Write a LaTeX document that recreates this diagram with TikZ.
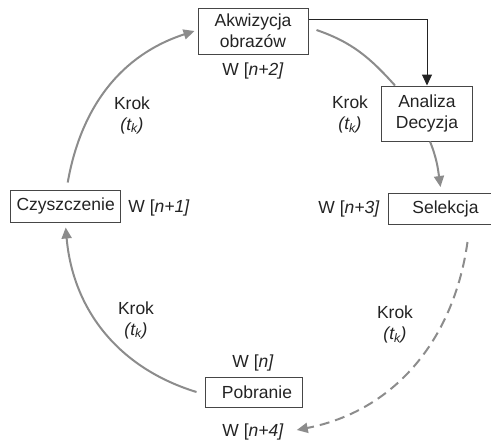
\documentclass[tikz,border=0pt]{standalone}
\usepackage{fontspec}
\setmainfont{Liberation Sans}
\usetikzlibrary{arrows.meta}
\definecolor{arcgray}{RGB}{140,140,140}
\definecolor{txt}{RGB}{35,35,35}
\definecolor{boxline}{RGB}{70,70,70}
\begin{document}
\begin{tikzpicture}[x=1pt,y=1pt,
  every node/.style={font=\fontsize{17.5}{21}\selectfont, text=txt, inner sep=0pt},
  box/.style={draw=boxline, line width=1pt, align=center},
  lbl/.style={align=center},
  grayarc/.style={draw=arcgray, line width=2pt},
  graytip/.style={-{Triangle[length=11pt,width=10pt]}},
  blackarrow/.style={draw=txt, line width=1pt, -{Triangle[length=11pt,width=10pt]}}
]
\useasboundingbox (0,0) rectangle (491,-445);
% boxes
\node[box, minimum width=110pt, minimum height=46pt] (akw) at (253,-31) {Akwizycja\\obrazów};
\node[box, minimum width=91pt, minimum height=55pt] (ana) at (427,-113.5) {Analiza\\Decyzja};
\node[box, minimum width=140pt, minimum height=31pt, anchor=west] (sel) at (388,-209) {\makebox[114pt]{Selekcja}\hspace*{26pt}};
\node[box, minimum width=110pt, minimum height=32pt] (czy) at (65.7,-206) {Czyszczenie};
\node[box, minimum width=97pt, minimum height=30pt, text width=97pt, align=center] (pob) at (253.5,-392) {\hspace*{7pt}Pobranie};
% labels
\node[lbl] (n2) at (253,-71) {W [\textit{n+2]}};
\node[lbl] (n1) at (159,-208) {W [\textit{n+1]}};
\node[lbl] (n3) at (349,-209) {W [\textit{n+3]}};
\node[lbl] (n0) at (253,-363) {W [\textit{n]}};
\node[lbl] (n4) at (253,-432) {W [\textit{n+4]}};
\node[lbl] (k1) at (132,-115) {Krok\\\textit{(t\textsubscript{k})}};
\node[lbl] (k2) at (350,-114.5) {Krok\\\textit{(t\textsubscript{k})}};
\node[lbl] (k3) at (136,-320) {Krok\\\textit{(t\textsubscript{k})}};
\node[lbl] (k4) at (395,-324.5) {Krok\\\textit{(t\textsubscript{k})}};
% connectors
\draw[grayarc, graytip] ([xshift=2pt,yshift=7pt]czy.north) to[out=80,in=198] ([xshift=-3pt]akw.west);
\draw[grayarc] ([xshift=8pt,yshift=1pt]akw.east) to[out=-19,in=132] ([xshift=14pt]ana.north west);
\draw[blackarrow] ([yshift=12pt]akw.east) -| (ana.north);
\draw[grayarc, graytip] ([xshift=3pt]ana.south) to[out=-68,in=98] ([xshift=-18pt,yshift=6pt]sel.north);
\draw[grayarc, graytip, dash pattern=on 10pt off 6pt] ([xshift=9pt,yshift=-17pt]sel.south) to[out=-98,in=11] ([xshift=13pt,yshift=2pt]n4.east);
\draw[grayarc, graytip] ([xshift=-8pt]pob.west) to[out=163,in=275] ([yshift=-5pt]czy.south);
\end{tikzpicture}
\end{document}
